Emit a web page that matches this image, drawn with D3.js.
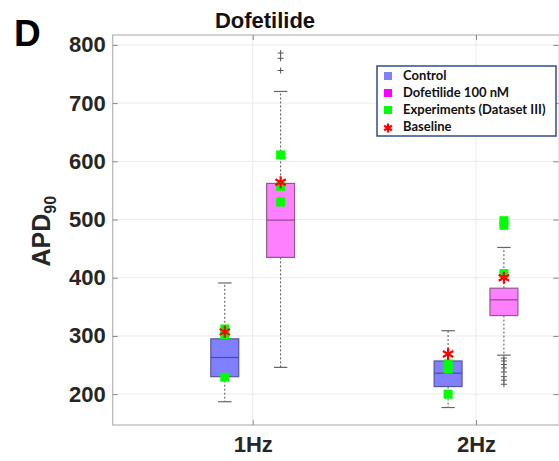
<!DOCTYPE html>
<html><head><meta charset="utf-8">
<script src="https://cdn.jsdelivr.net/npm/d3@7"></script>
<style>body{margin:0;background:#fff}svg{display:block;font-family:"Liberation Sans",Arial,sans-serif}</style>
</head><body><div id="c"></div>
<script>
const categories = ["1Hz", "2Hz"];
const groups = ["Control", "Dofetilide 100 nM"];
// box stats per category: [lowerWhisker, q1, median, q3, upperWhisker]
const controlStats = [[187, 230, 263, 295, 391], [177, 213, 236, 257, 309]];
const dofetilideStats = [[246, 435, 499, 562, 720], [267, 335, 362, 382, 452]];
const controlOutliers = [[], []];
const dofetilideOutliers = [[786, 777, 756], [262, 257, 251, 245, 238, 230, 224, 217]];
const controlExperiments = [[312, 302, 229], [252, 243, 200]];
const dofetilideExperiments = [[611, 557, 530], [498, 490, 407]];
const controlBaseline = [307, 269];
const dofetilideBaseline = [564, 400];
const yTicks = [200, 300, 400, 500, 600, 700, 800];

const W = 559, H = 461;
const svg = d3.select("#c").append("svg").attr("width", W).attr("height", H);
const x = d3.scaleLinear().domain([0.373, 2.373]).range([112.7, 559.3]);
const y = d3.scaleLinear().domain([147, 817]).range([425, 35]);

const plotL = x.range()[0], plotR = x.range()[1], plotT = y.range()[1], plotB = y.range()[0];

// grid
const g = svg.append("g");
g.selectAll(".hg").data(yTicks).join("line")
  .attr("x1", plotL).attr("x2", plotR).attr("y1", d => y(d)).attr("y2", d => y(d))
  .attr("stroke", "#ebebeb").attr("stroke-width", 1);
g.selectAll(".vg").data(categories).join("line")
  .attr("x1", (d, i) => x(i + 1)).attr("x2", (d, i) => x(i + 1)).attr("y1", plotT).attr("y2", plotB)
  .attr("stroke", "#ebebeb").attr("stroke-width", 1);

// frame
svg.append("rect").attr("x", plotL).attr("y", plotT).attr("width", plotR - plotL).attr("height", plotB - plotT)
  .attr("fill", "none").attr("stroke", "#b5b5b5").attr("stroke-width", 1.2);

// axes
const yAxis = d3.axisLeft(y).tickValues(yTicks).tickSize(-5).tickPadding(7);
const ya = svg.append("g").attr("transform", `translate(${plotL},0)`).call(yAxis);
ya.select(".domain").remove();
ya.selectAll(".tick line").attr("stroke", "#888");
ya.selectAll(".tick text").attr("font-size", 22).attr("font-weight", "bold").attr("fill", "#262626")
  .attr("font-family", "Liberation Sans, Arial, sans-serif");

const yAxisR = d3.axisRight(y).tickValues(yTicks).tickSize(-5).tickFormat("");
const yr = svg.append("g").attr("transform", `translate(${plotR - 1},0)`).call(yAxisR);
yr.select(".domain").remove();
yr.selectAll(".tick line").attr("stroke", "#888");

const xAxis = d3.axisBottom(x).tickValues([1, 2]).tickFormat((d) => categories[d - 1]).tickSize(-5).tickPadding(11);
const xa = svg.append("g").attr("transform", `translate(0,${plotB})`).call(xAxis);
xa.select(".domain").remove();
xa.selectAll(".tick line").attr("stroke", "#888");
xa.selectAll(".tick text").attr("font-size", 22).attr("font-weight", "bold").attr("fill", "#262626")
  .attr("font-family", "Liberation Sans, Arial, sans-serif");
const xAxisT = d3.axisTop(x).tickValues([1, 2]).tickFormat("").tickSize(-5);
const xt = svg.append("g").attr("transform", `translate(0,${plotT})`).call(xAxisT);
xt.select(".domain").remove();
xt.selectAll(".tick line").attr("stroke", "#888");

// boxes
const boxW = 0.125;
const series = [
  { name: "Control", stats: controlStats, outl: controlOutliers, exp: controlExperiments, base: controlBaseline, off: -0.125, fill: "#8080ff", edge: "#55559a", med: "#4b4b99" },
  { name: "Dofetilide 100 nM", stats: dofetilideStats, outl: dofetilideOutliers, exp: dofetilideExperiments, base: dofetilideBaseline, off: 0.125, fill: "#ff80ff", edge: "#8f5a8f", med: "#8a4a8a" }
];
const capW = 0.03;
series.forEach(s => {
  s.stats.forEach((st, i) => {
    const cx = i + 1 + s.off;
    const [lw, q1, md, q3, uw] = st;
    const gg = svg.append("g");
    gg.append("line").attr("x1", x(cx)).attr("x2", x(cx)).attr("y1", y(q3)).attr("y2", y(uw))
      .attr("stroke", "#555").attr("stroke-width", 1).attr("stroke-dasharray", "2,2");
    gg.append("line").attr("x1", x(cx)).attr("x2", x(cx)).attr("y1", y(q1)).attr("y2", y(lw))
      .attr("stroke", "#555").attr("stroke-width", 1).attr("stroke-dasharray", "2,2");
    [lw, uw].forEach(v => gg.append("line").attr("x1", x(cx - capW)).attr("x2", x(cx + capW))
      .attr("y1", y(v)).attr("y2", y(v)).attr("stroke", "#666").attr("stroke-width", 1.2));
    gg.append("rect").attr("x", x(cx - boxW / 2)).attr("width", x(cx + boxW / 2) - x(cx - boxW / 2))
      .attr("y", y(q3)).attr("height", y(q1) - y(q3))
      .attr("fill", s.fill).attr("stroke", s.edge).attr("stroke-width", 1.2);
    gg.append("line").attr("x1", x(cx - boxW / 2)).attr("x2", x(cx + boxW / 2)).attr("y1", y(md)).attr("y2", y(md))
      .attr("stroke", s.med).attr("stroke-width", 1.2);
    s.outl[i].forEach(v => {
      const px = x(cx), py = y(v);
      gg.append("path").attr("d", `M${px - 3},${py}H${px + 3}M${px},${py - 3}V${py + 3}`)
        .attr("stroke", "#555").attr("stroke-width", 1);
    });
  });
});
function star(g, px, py, r, color) {
  let d = "";
  for (let k = 0; k < 3; k++) {
    const a = Math.PI / 2 + k * Math.PI / 3;
    d += `M${px + r * Math.cos(a)},${py + r * Math.sin(a)}L${px - r * Math.cos(a)},${py - r * Math.sin(a)}`;
  }
  g.append("path").attr("d", d).attr("stroke", color).attr("stroke-width", 2.2).attr("fill", "none");
}
const mk = svg.append("g");
series.forEach(s => {
  s.exp.forEach((arr, i) => {
    const cx = i + 1 + s.off;
    arr.forEach(v => mk.append("rect").attr("x", x(cx) - 4.5).attr("y", y(v) - 4.5).attr("width", 9).attr("height", 9).attr("fill", "#00ff00"));
  });
});
series.forEach(s => {
  s.base.forEach((v, i) => star(mk, x(i + 1 + s.off), y(v), 6, "#ff0000"));
});

// legend
const lg = svg.append("g");
lg.append("rect").attr("x", 377).attr("y", 66).attr("width", 179).attr("height", 70)
  .attr("fill", "#fff").attr("stroke", "#2f4f8f").attr("stroke-width", 1.5);
const legItems = [
  { label: "Control", type: "sq", color: "#8080ff" },
  { label: "Dofetilide 100 nM", type: "sq", color: "#ff00ff" },
  { label: "Experiments (Dataset III)", type: "sq", color: "#00ff00" },
  { label: "Baseline", type: "star", color: "#ff0000" }
];
legItems.forEach((it, k) => {
  const cy = 76 + k * 17;
  if (it.type === "sq") lg.append("rect").attr("x", 384).attr("y", cy - 4).attr("width", 8).attr("height", 8).attr("fill", it.color);
  else star(lg, 388, cy + 1, 4.5, it.color);
  lg.append("text").attr("x", 403).attr("y", cy + 4).text(it.label)
    .attr("font-family", "Lato, 'Open Sans', sans-serif").attr("font-weight", "bold").attr("font-size", 13).attr("fill", "#111");
});

// title, label, panel letter
svg.append("text").attr("x", 265).attr("y", 28).attr("text-anchor", "middle").text("Dofetilide")
  .attr("font-size", 22).attr("font-weight", "bold").attr("fill", "#111");
svg.append("text").attr("x", 14).attr("y", 46).text("D")
  .attr("font-size", 37).attr("font-weight", "bold").attr("fill", "#000");
const yl = svg.append("text").attr("transform", `translate(50,${y(480)}) rotate(-90)`).attr("text-anchor", "middle")
  .attr("font-size", 25).attr("font-weight", "bold").attr("fill", "#262626");
yl.append("tspan").text("APD");
yl.append("tspan").text("90").attr("font-size", 16).attr("dy", 6);
</script></body></html>
